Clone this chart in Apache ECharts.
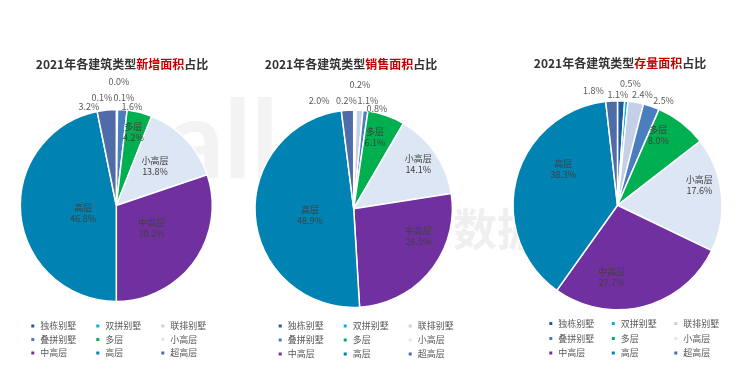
<!DOCTYPE html>
<html><head><meta charset="utf-8">
<script src="https://cdn.jsdelivr.net/npm/echarts@6/dist/echarts.min.js"></script>
<style>html,body{margin:0;padding:0;background:#fff}#c{width:740px;height:385px}</style>
</head><body><div id="c"></div>
<script>
// ---- data ----
const categories = ['独栋别墅','双拼别墅','联排别墅','叠拼别墅','多层','小高层','中高层','高层','超高层'];
const newArea   = [0.0, 0.1, 0.1, 1.6, 4.2, 13.8, 30.2, 46.8, 3.2];
const salesArea = [0.2, 0.2, 1.1, 0.8, 6.1, 14.1, 26.5, 48.9, 2.0];
const stockArea = [1.1, 0.5, 2.4, 2.5, 8.0, 17.6, 27.7, 38.3, 1.8];
const titlePrefix = '2021年各建筑类型';
const titleHighlights = ['新增面积','销售面积','存量面积'];
const titleSuffix = '占比';
const namedCats = ['多层','小高层','中高层','高层'];

// ---- styles / layout ----
const FONT = '"Noto Sans CJK SC", "Noto Sans", sans-serif';
const colors = ['#1f5c99','#00b0f0','#c5d0e8','#4a7ebf','#00b050','#dce6f4','#7030a0','#0083b3','#4f6ba8'];
const pieCenters = [[116.3,205.5],[353.7,208.7],[617.5,205.3]];
const pieRadii = [96, 98.7, 104.5];
const titlePos = [[122,64],[351,64],[620,63]];
// label placement per slice: [radius fraction, angular shift (deg) from slice middle]
const labelPlace = [
 [[1.287,1.25],[1.13,-7.76],[1.123,3.56],[1.039,5.46],[0.789,-1.07],[0.576,-2.0],[0.437,-3.2],[0.353,-7.0],[1.065,-9.73]],
 [[1.255,2.56],[1.097,-4.89],[1.104,4.12],[1.037,6.3],[0.753,-2.63],[0.794,-0.2],[0.712,-15.7],[0.448,-3.5],[1.149,-14.2]],
 [[1.062,-1.72],[1.174,1.22],[1.089,2.6],[1.094,4.82],[0.774,-7.5],[0.807,-8.1],[0.686,19.05],[0.622,18.95],[1.12,-8.59]]
];
const legendLeft = [29.3, 276.7, 547.3];
const legendRowCenters = [[326,339.5,353],[326,340,354],[323.5,338.5,353]];
const legendColGap = [10, 10, 7.5];

const datasets = [newArea, salesArea, stockArea];

const series = datasets.map((vals, p) => {
  const total = vals.reduce((a, b) => a + b, 0);
  const mids = [];
  let cum = 0;
  vals.forEach(v => { mids.push((cum + v / 2) / total * 360); cum += v; });
  const [cx, cy] = pieCenters[p];
  const R = pieRadii[p];
  return {
    type: 'pie',
    center: pieCenters[p],
    radius: R,
    startAngle: 90,
    clockwise: true,
    avoidLabelOverlap: false,
    silent: true,
    animation: false,
    itemStyle: { borderColor: '#ffffff', borderWidth: 1.5 },
    label: {
      show: true, position: 'inside', fontSize: 9, lineHeight: 11, fontFamily: FONT, color: '#404040',
      formatter: pr => namedCats.includes(pr.name)
        ? pr.name + '\n' + pr.value.toFixed(1) + '%'
        : pr.value.toFixed(1) + '%'
    },
    labelLine: { show: false },
    labelLayout: pr => {
      const [f, da] = labelPlace[p][pr.dataIndex];
      const a = (mids[pr.dataIndex] + da) * Math.PI / 180;
      return { x: cx + f * R * Math.sin(a), y: cy - f * R * Math.cos(a), align: 'center', verticalAlign: 'middle' };
    },
    emphasis: { disabled: true },
    data: categories.map((n, i) => ({
      name: n, value: vals[i],
      label: { color: namedCats.includes(n) ? '#404040' : '#595959' }
    }))
  };
});

const legends = [];
[0, 1, 2].forEach(p => {
  [0, 1, 2].forEach(r => {
    legends.push({
      left: legendLeft[p], top: legendRowCenters[p][r] - 6,
      orient: 'horizontal', padding: 0,
      itemWidth: 5, itemHeight: 5, itemGap: legendColGap[p], icon: 'rect',
      selectedMode: false,
      data: categories.slice(r * 3, r * 3 + 3),
      textStyle: { fontSize: 9, color: '#595959', width: 44, lineHeight: 12, fontFamily: FONT }
    });
  });
});

const titles = titleHighlights.map((h, p) => ({
  text: titlePrefix + '{r|' + h + '}' + titleSuffix,
  left: titlePos[p][0], top: titlePos[p][1],
  textAlign: 'center', textVerticalAlign: 'middle', padding: 0,
  textStyle: {
    fontSize: 12, fontWeight: 'bold', color: '#333333', fontFamily: FONT,
    rich: { r: { fontSize: 12, fontWeight: 'bold', color: '#c00000', fontFamily: FONT } }
  }
}));

const chart = echarts.init(document.getElementById('c'), null, { renderer: 'canvas' });
chart.setOption({
  backgroundColor: '#ffffff',
  animation: false,
  color: colors,
  title: titles,
  legend: legends,
  graphic: [
    { type: 'text', left: 168, top: 88, z: 0, silent: true,
      style: { text: 'all', fontSize: 110, fontWeight: 'bold', fill: '#f3f3f3', fontFamily: 'Lato' } },
    { type: 'text', left: 453, top: 207, z: 0, silent: true,
      style: { text: '数据', fontSize: 44, fontWeight: 'bold', fill: '#efefef', fontFamily: FONT } }
  ],
  series: series
});
</script>
</body></html>
